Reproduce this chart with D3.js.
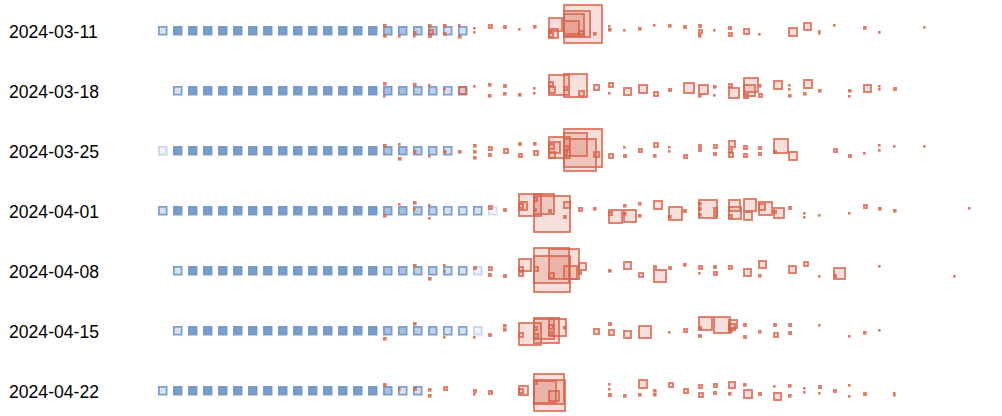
<!DOCTYPE html>
<html><head><meta charset="utf-8">
<script src="https://cdn.jsdelivr.net/npm/d3@7"></script>
<style>html,body{margin:0;padding:0;background:#fff;}svg{display:block;}</style>
</head><body>
<svg id="chart" width="1002" height="416"></svg>
<script>
const dates = ["2024-03-11","2024-03-18","2024-03-25","2024-04-01","2024-04-08","2024-04-15","2024-04-22"];

// blue marks: stacking level per column (0 = none)
const blue0 = [1,3,3,3,3,3,3,3,3,3,3,3,3,3,3,2,2,1.5,1.5,1,1];
const blue1 = [0,1,3,3,3,3,3,3,3,3,3,3,3,3,3,2,2,1.5,1.5,1,1];
const blue2 = [0.4,3,3,3,3,3,3,3,3,3,3,3,3,3,3,2,2,1.5,1.5,1];
const blue3 = [1,3,3,3,3,3,3,3,3,3,3,3,3,3,3,2,2,1.5,1.5,1,1,1,0.3];
const blue4 = [0,1,3,3,3,3,3,3,3,3,3,3,3,3,3,2,2,1.5,1.5,1,1,0.4];
const blue5 = [0,1,3,3,3,3,3,3,3,3,3,3,3,3,3,2,2,1.5,1.5,1,1,0.4];
const blue6 = [1,3,3,3,3,3,3,3,3,3,3,3,3,3,3,2,1,1];

// orange marks: [column, offset of top from row line, size]
const orange0 = [[15,-7,3],[15,3,3],[16,4,2],[17,0,3],[17,4,2],[18,-7,3],[18,3,4],[18,-2,6],[19,-7,3],[19,1,3],[20,-7,2],[20,4,3],
[21,-4,2],[21,0,2],[22,-7,5],[23,-6,4],[24,-3,2],[25,-6,3],
[26,-14,15],[26,-3,11],[26,1,6],[26,-1,4],
[27,-27,40],[27,-21,28],[27,-18,22],[27,-11,17],[28,-1,7],
[29,1,3],[30,-6,2],[30,-3,3],[31,-2,2],[32,-4,3],[33,-7,2],[34,-7,3],
[35,-6,4],[36,-7,4],[36,-2,5],[36,3,3],[37,-2,2],[38,-5,4],[38,1,5],[39,-3,7],[40,2,2],
[42,-4,10],[43,-9,9],[44,-1,2],[44,1,2],[45,-7,2],[47,-5,3],[48,0,2],[51,-5,2]];
const orange1 = [[15,-9,3],[15,4,2],[17,-8,3],[18,-7,2],[19,-3,2],[20,-5,9],[21,-6,2],[22,-8,3],[22,3,3],[23,-7,4],[23,1,3],[24,2,3],[25,-4,2],[25,1,2],
[26,-17,22],[27,-18,25],[26,-10,6],[26,-5,8],[27,-5,5],[28,-1,7],
[29,-7,7],[30,-9,6],[30,1,2],[31,-4,9],[32,-7,10],[33,0,6],[34,-3,4],[35,-9,12],[36,-7,11],[36,3,3],[37,-6,3],[37,3,2],
[38,-8,5],[38,-4,12],[39,-14,16],[39,-7,13],[39,2,6],[40,2,5],[40,-7,3],[41,-11,10],[42,-7,2],[42,-3,2],[42,3,3],[43,-12,10],[43,1,3],[44,-2,3],[46,-2,3],[46,4,2],[47,-7,9],[48,-6,2],[48,-3,2],[49,-4,4]];
const orange2 = [[15,-7,3],[16,-8,2],[16,6,3],[17,-1,3],[18,4,2],[19,-1,3],[20,-1,3],[21,-7,3],[21,-1,3],[21,5,3],[22,-5,5],[22,2,4],[23,-3,6],[24,-9,4],[24,2,5],[25,-9,3],[25,-1,6],
[26,-15,23],[26,-10,13],[26,-8,7],[26,0,8],
[27,-23,40],[27,-13,34],[27,-19,25],[27,-6,6],[27,-1,5],
[29,0,7],[30,2,6],[31,-5,2],[31,3,4],[32,-3,5],[33,-9,6],[33,3,3],[34,-5,2],[34,-1,2],[35,3,5],[36,-7,4],[36,-3,4],[37,-7,5],[37,1,4],[38,-11,8],[38,-3,5],[38,1,6],[39,-6,5],[39,2,5],[40,-5,4],[40,1,4],[41,-13,16],[41,-1,4],[42,0,10],[45,-3,5],[46,3,4],[47,1,2],[48,-7,2],[48,-2,2],[49,-6,2],[51,-6,2]];
const orange3 = [[15,3,3],[16,-8,2],[17,-10,3],[17,-3,2],[18,-7,2],[18,6,2],[22,-6,5],[23,-3,4],
[24,-18,24],[24,-10,10],[24,-8,6],[25,-18,22],[25,-16,38],[25,-14,5],[25,-3,4],[26,-2,4],[27,-10,8],[27,4,4],[28,-4,5],[29,-4,3],
[30,-2,15],[30,0,5],[31,-2,14],[31,-7,3],[31,1,3],[32,-9,3],[32,3,3],[33,-11,10],[34,-5,15],[34,4,3],[35,-2,4],
[36,-12,20],[36,-9,3],[36,-4,3],[36,2,3],[37,-4,5],[37,1,5],[38,-12,13],[38,-5,14],[38,3,5],[39,-13,14],[39,0,10],[40,-10,15],[40,-8,8],[41,-4,12],[41,-1,4],[42,-5,4],[43,1,2],[43,5,2],[44,3,2],[46,1,2],[47,-7,5],[48,-4,3],[49,-2,3],[54,-4,2]];
const orange4 = [[17,-7,3],[18,6,3],[19,-7,2],[19,-1,2],[21,-5,4],[22,-5,5],[22,2,4],[23,3,4],
[24,-13,14],[24,-5,6],[24,0,6],
[25,-24,37],[25,-16,38],[26,-23,32],[25,-5,6],[26,1,7],[27,-6,15],[28,-9,9],[28,0,4],
[30,-2,3],[31,-10,9],[32,1,6],[33,-2,14],[33,-6,4],[34,-5,4],[35,-8,3],[36,-6,5],[36,1,2],[37,-6,4],[37,0,5],[38,-6,5],[39,-3,9],[40,-11,9],[40,3,3],[42,-6,9],[43,-10,6],[44,4,2],[45,-4,13],[45,3,4],[48,-6,2],[53,4,2]];
const orange5 = [[15,6,3],[17,-9,3],[19,5,2],[21,5,2],[22,2,4],[23,-7,3],[23,-3,3],
[24,-9,24],[24,1,6],[25,-14,27],[25,-13,22],[25,-5,5],[25,2,6],[26,-13,19],[26,-7,6],[26,0,5],[27,-5,3],
[29,-3,7],[30,-2,7],[30,-9,4],[31,-1,9],[32,-6,14],[34,0,2],[35,-3,5],[36,-15,15],[36,-5,4],[36,3,4],[37,-15,18],[38,-12,10],[38,-8,8],[38,-3,5],[39,-8,4],[39,4,4],[40,-1,3],[41,-8,4],[41,1,6],[42,-8,4],[42,0,4],[44,-7,2],[46,4,2],[47,0,3],[48,-2,2]];
const orange6 = [[15,-8,3],[16,-3,2],[17,-4,4],[18,-3,3],[18,3,3],[19,-5,5],[21,-2,4],[21,2,2],[22,-1,5],
[24,-6,11],[24,-3,6],[25,-18,32],[25,-12,33],[25,-11,24],[25,-11,5],[26,-1,12],
[30,-8,2],[30,-3,2],[30,2,4],[31,3,3],[32,-12,10],[32,2,3],[33,-2,3],[33,2,3],[34,-9,6],[35,-3,6],[36,-7,5],[36,1,6],[37,-8,5],[37,0,4],[38,-10,8],[38,1,3],[39,-8,3],[39,-2,10],[40,1,4],[41,-6,2],[41,1,9],[42,-7,3],[42,3,3],[43,-4,2],[43,0,2],[44,-6,4],[44,1,2],[45,-2,4],[46,-7,2],[46,4,2],[47,1,4],[49,1,2],[49,3,2]];

const blueRows = [blue0,blue1,blue2,blue3,blue4,blue5,blue6];
const orangeRows = [orange0,orange1,orange2,orange3,orange4,orange5,orange6];

const svg = d3.select("#chart");
const x = d3.scaleLinear().domain([0, 54]).range([158, 968]);
const y = d3.scalePoint().domain(dates).range([31, 391]);
const off = d3.scaleLinear().domain([-30, 30]).range([-30, 30]);
const sz = d3.scaleLinear().domain([0, 40]).range([0, 40]);
const blueFill = d3.scaleLinear().domain([0, 1, 2, 3]).range([0, 0.28, 0.6, 0.92]).clamp(true);
const blueStroke = d3.scaleLinear().domain([0, 1]).range([0, 0.9]).clamp(true);

const SW = 1.7, OSW = 2;
const BLUE = "#6f95c7", ORANGE = "#d9634a";

dates.forEach((d, i) => {
  const g = svg.append("g");
  g.append("text")
    .attr("x", 9).attr("y", y(d) + 6.5)
    .attr("font-family", "'Liberation Sans', Arial, Helvetica, sans-serif")
    .attr("font-size", 17.6).attr("fill", "#000")
    .text(d);

  const blues = blueRows[i].map((c, col) => ({col, c})).filter(o => o.c > 0);
  g.selectAll("rect.blue").data(blues).join("rect")
    .attr("class", "blue")
    .attr("x", o => x(o.col) + SW / 2)
    .attr("y", o => y(d) + off(-5) + SW / 2)
    .attr("width", sz(9.5) - SW)
    .attr("height", sz(9.5) - SW)
    .attr("fill", BLUE).attr("fill-opacity", o => blueFill(o.c))
    .attr("stroke", BLUE).attr("stroke-opacity", o => blueStroke(o.c))
    .attr("stroke-width", SW);

  const oranges = orangeRows[i].map(([col, dy, s]) => ({col, dy, s}));
  g.selectAll("rect.orange").data(oranges).join("rect")
    .attr("class", "orange")
    .attr("x", o => x(o.col) + (o.s > 3 ? OSW / 2 : 0))
    .attr("y", o => y(d) + off(o.dy) + (o.s > 3 ? OSW / 2 : 0))
    .attr("width", o => o.s > 3 ? sz(o.s) - OSW : sz(o.s) + 0.6)
    .attr("height", o => o.s > 3 ? sz(o.s) - OSW : sz(o.s) + 0.6)
    .attr("fill", ORANGE).attr("fill-opacity", o => o.s > 3 ? 0.2 : 0.85)
    .attr("stroke", ORANGE).attr("stroke-opacity", o => o.s > 3 ? 0.78 : 0)
    .attr("stroke-width", OSW);
});
</script>
</body></html>
